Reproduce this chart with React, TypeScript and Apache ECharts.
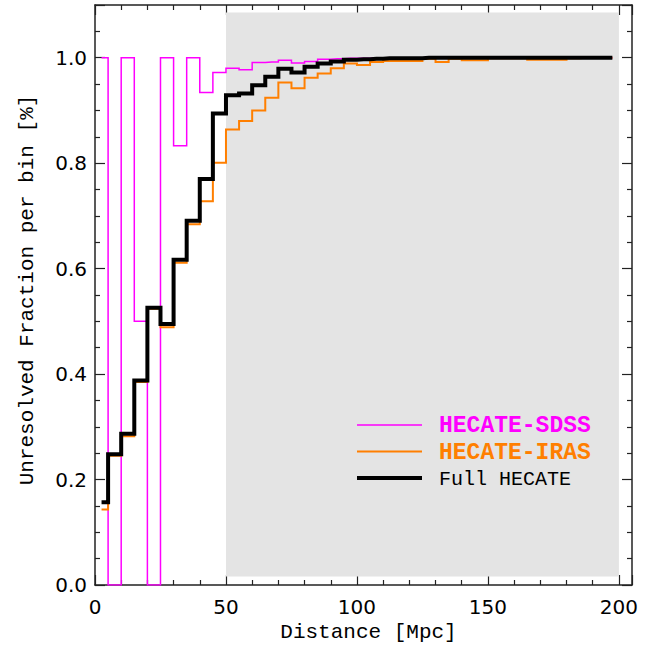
import React, { useEffect, useRef } from "react";
import * as echarts from "echarts";

const binCenters = [
  2.5, 7.5, 12.5, 17.5, 22.5, 27.5, 32.5, 37.5, 42.5, 47.5,
  52.5, 57.5, 62.5, 67.5, 72.5, 77.5, 82.5, 87.5, 92.5, 97.5,
  102.5, 107.5, 112.5, 117.5, 122.5, 127.5, 132.5, 137.5, 142.5, 147.5,
  152.5, 157.5, 162.5, 167.5, 172.5, 177.5, 182.5, 187.5, 192.5, 197.5,
];

const sdssValues = [
  1.0, 0.0, 1.0, 0.5, 0.0, 1.0, 0.833, 1.0, 0.934, 0.972,
  0.98, 0.977, 0.991, 0.992, 0.995, 0.99, 0.993, 0.997, 0.998, 0.999,
  0.999, 1.0, 1.0, 1.0, 1.0, 1.0, 1.0, 1.0, 1.0, 1.0,
  1.0, 1.0, 1.0, 1.0, 1.0, 1.0, 1.0, 1.0, 1.0, 1.0,
];

const irasValues = [
  0.143, 0.245, 0.282, 0.385, 0.524, 0.489, 0.611, 0.684, 0.728, 0.801,
  0.864, 0.88, 0.9, 0.924, 0.953, 0.942, 0.962, 0.97, 0.98, 0.989,
  0.986, 0.992, 0.994, 0.994, 0.994, 0.998, 0.992, 0.998, 0.995, 0.995,
  0.999, 0.999, 0.999, 0.996, 0.996, 0.996, 0.999, 1.0, 1.0, 1.0,
];

const fullValues = [
  0.157, 0.248, 0.287, 0.388, 0.526, 0.495, 0.617, 0.691, 0.77, 0.894,
  0.929, 0.932, 0.948, 0.964, 0.979, 0.972, 0.983, 0.989, 0.993, 0.996,
  0.997, 0.998, 0.999, 0.999, 0.999, 1.0, 1.0, 1.0, 1.0, 1.0,
  1.0, 1.0, 1.0, 1.0, 1.0, 1.0, 1.0, 1.0, 1.0, 1.0,
];

const shadedX = [50, 200];
const shadedY = [0.016, 1.086];

const seriesNames = ["HECATE-SDSS", "HECATE-IRAS", "Full HECATE"];
const seriesColors = ["#ff00ff", "#ff7f00", "#000000"];

const AXIS_COLOR = "#222";
const MONO = "'Liberation Mono', 'DejaVu Sans Mono', monospace";
const TICKFONT = "'DejaVu Sans', sans-serif";

function pairs(xs: number[], ys: number[]) {
  return xs.map((x, i) => [x, ys[i]]);
}

export default function App() {
  const ref = useRef<HTMLDivElement>(null);

  useEffect(() => {
    document.body.style.margin = "0";
    if (!ref.current) return;
    const chart = echarts.init(ref.current, undefined, { renderer: "svg" });

    const axisCommon = {
      axisLine: { show: true, onZero: false, lineStyle: { color: AXIS_COLOR, width: 1.5 } },
      axisTick: { show: true, inside: true, length: 10, lineStyle: { color: AXIS_COLOR, width: 1.2 } },
      minorTick: { show: true, length: 5, lineStyle: { color: AXIS_COLOR, width: 1.2 } },
      splitLine: { show: false },
    };

    const xCommon = {
      type: "value",
      min: 0,
      max: 205,
      interval: 50,
      ...axisCommon,
      minorTick: { ...axisCommon.minorTick, splitNumber: 5 },
    };
    const yCommon = {
      type: "value",
      min: 0,
      max: 1.1,
      interval: 0.2,
      ...axisCommon,
      minorTick: { ...axisCommon.minorTick, splitNumber: 4 },
    };

    const lineWidths = [1.5, 2, 4];
    const valueSets = [sdssValues, irasValues, fullValues];

    const legendTop = 425;
    const legendGap = 26.5;

    const legendGraphics: any[] = [];
    seriesNames.forEach((name, i) => {
      const y = legendTop + i * legendGap;
      legendGraphics.push({
        type: "line",
        z: 100,
        shape: { x1: 357, y1: y, x2: 422, y2: y },
        style: { stroke: seriesColors[i], lineWidth: lineWidths[i] },
      });
      legendGraphics.push({
        type: "text",
        z: 100,
        x: 439,
        y: y + 1,
        style: {
          text: name,
          fill: seriesColors[i],
          font: i < 2 ? `bold 23px ${MONO}` : `20px ${MONO}`,
          verticalAlign: "middle",
          align: "left",
        },
      });
    });

    chart.setOption({
      animation: false,
      backgroundColor: "#ffffff",
      grid: { left: 95, right: 28, top: 5, bottom: 66, containLabel: false },
      xAxis: [
        {
          ...xCommon,
          position: "bottom",
          name: "Distance [Mpc]",
          nameLocation: "middle",
          nameGap: 37,
          nameTextStyle: { fontFamily: MONO, fontSize: 21, color: "#000", padding: [0, 0, 0, 10] },
          axisLabel: {
            margin: 12,
            fontFamily: TICKFONT,
            fontSize: 20,
            color: "#000",
            formatter: (v: number) => (Math.abs(v % 50) < 1e-6 ? String(v) : ""),
          },
        },
        { ...xCommon, position: "top", axisLabel: { show: false } },
      ],
      yAxis: [
        {
          ...yCommon,
          position: "left",
          name: "Unresolved Fraction per bin [%]",
          nameLocation: "middle",
          nameGap: 57,
          nameTextStyle: { fontFamily: MONO, fontSize: 21, color: "#000", padding: [0, 0, 0, 10] },
          axisLabel: {
            margin: 8,
            fontFamily: TICKFONT,
            fontSize: 20,
            color: "#000",
            formatter: (v: number) => {
              const r = Math.round(v / 0.2) * 0.2;
              return Math.abs(r - v) < 1e-6 ? v.toFixed(1) : "";
            },
          },
        },
        { ...yCommon, position: "right", axisLabel: { show: false } },
      ],
      series: [
        {
          type: "line",
          name: "shade",
          data: [],
          silent: true,
          z: 1,
          markArea: {
            silent: true,
            itemStyle: { color: "#e4e4e4" },
            data: [[{ coord: [shadedX[0], shadedY[0]] }, { coord: [shadedX[1], shadedY[1]] }]],
          },
        },
        ...seriesNames.map((name, i) => ({
          type: "line",
          name,
          step: "middle",
          data: pairs(binCenters, valueSets[i]),
          symbol: "none",
          showSymbol: false,
          z: 2 + i,
          lineStyle: { color: seriesColors[i], width: lineWidths[i], join: "miter", cap: "butt" },
          itemStyle: { color: seriesColors[i] },
        })),
      ],
      graphic: legendGraphics,
    });

    return () => chart.dispose();
  }, []);

  return <div ref={ref} style={{ width: 660, height: 651 }} />;
}
